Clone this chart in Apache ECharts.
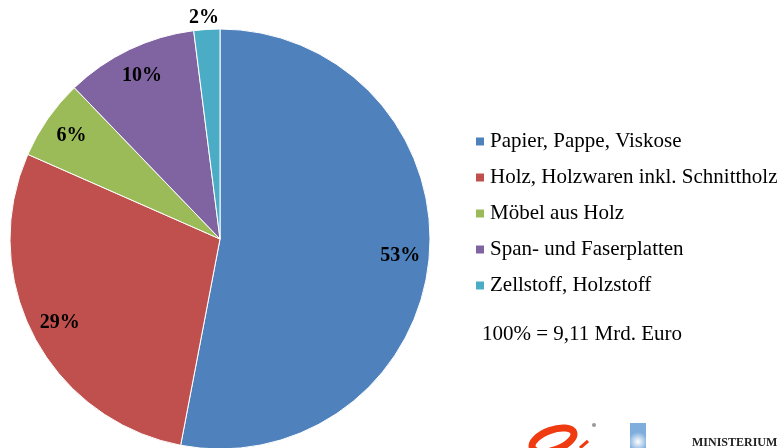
<!DOCTYPE html>
<html>
<head>
<meta charset="utf-8">
<script src="https://cdn.jsdelivr.net/npm/echarts@6/dist/echarts.min.js"></script>
<style>
  html, body {margin: 0; padding: 0; background: #fff;}
  #chart {width: 784px; height: 448px;}
</style>
</head>
<body>
<div id="chart"></div>
<script>
const categories = ['Papier, Pappe, Viskose', 'Holz, Holzwaren inkl. Schnittholz', 'Möbel aus Holz', 'Span- und Faserplatten', 'Zellstoff, Holzstoff'];
const shares = [53.0, 28.6, 6.2, 10.2, 2.0];
const colors = ['#4F81BD', '#C0504D', '#9BBB59', '#8064A2', '#4BACC6'];
const totalNote = '100% = 9,11 Mrd. Euro';

const font = "'Liberation Serif', 'Times New Roman', serif";
const pieData = categories.map((name, i) => ({name: name, value: shares[i], itemStyle: {color: colors[i]}}));

// second ring only carries the labels, so they sit near the rim
const labelData = categories.map((name, i) => {
    const item = {name: name, value: shares[i]};
    if (i === 4) {
        item.label = {position: 'outside', padding: [0, -18, 0, 0]};
        item.labelLine = {show: false, length: 12, length2: 0};
    }
    return item;
});

const option = {
    animation: false,
    color: colors,
    title: {
        text: totalNote, left: 477, top: 319,
        textStyle: {fontFamily: font, fontSize: 21, fontWeight: 'normal', color: '#000'}
    },
    legend: {
        orient: 'vertical', left: 474, top: 131,
        itemWidth: 10, itemHeight: 10, itemGap: 15, padding: 0,
        icon: 'rect',
        data: categories,
        textStyle: {fontFamily: font, fontSize: 21, color: '#000'}
    },
    series: [{
        type: 'pie', center: [220, 239], radius: [0, 210],
        startAngle: 90, clockwise: true, silent: true,
        itemStyle: {borderColor: '#fff', borderWidth: 1},
        label: {show: false}, labelLine: {show: false},
        data: pieData
    }, {
        type: 'pie', center: [220, 239], radius: [146, 210],
        startAngle: 90, clockwise: true, silent: true,
        itemStyle: {color: 'rgba(0,0,0,0)'},
        label: {
            show: true, position: 'inside',
            fontFamily: font, fontSize: 20, fontWeight: 'bold', color: '#000',
            formatter: p => Math.round(p.value) + '%'
        },
        labelLine: {show: false},
        data: labelData
    }],
    graphic: [
        {type: 'ellipse', shape: {cx: 553, cy: 440, rx: 22, ry: 10}, rotation: 0.35, originX: 553, originY: 440,
         style: {stroke: '#F03A10', lineWidth: 7, fill: null}},
        {type: 'line', shape: {x1: 580, y1: 448, x2: 588, y2: 441},
         style: {stroke: '#F03A10', lineWidth: 3}},
        {type: 'circle', shape: {cx: 594, cy: 425, r: 2}, style: {fill: '#999'}},
        {type: 'rect', shape: {x: 630, y: 423, width: 16, height: 25},
         style: {fill: new echarts.graphic.RadialGradient(0.5, 0.75, 0.6, [{offset: 0, color: '#FFFFFF'}, {offset: 1, color: '#7FAEDD'}])}},
        {type: 'text', left: 692, top: 437,
         style: {text: 'MINISTERIUM', font: 'bold 12px "Liberation Serif"', fill: '#222'}}
    ]
};

const myChart = echarts.init(document.getElementById('chart'));
myChart.setOption(option);
</script>
</body>
</html>
